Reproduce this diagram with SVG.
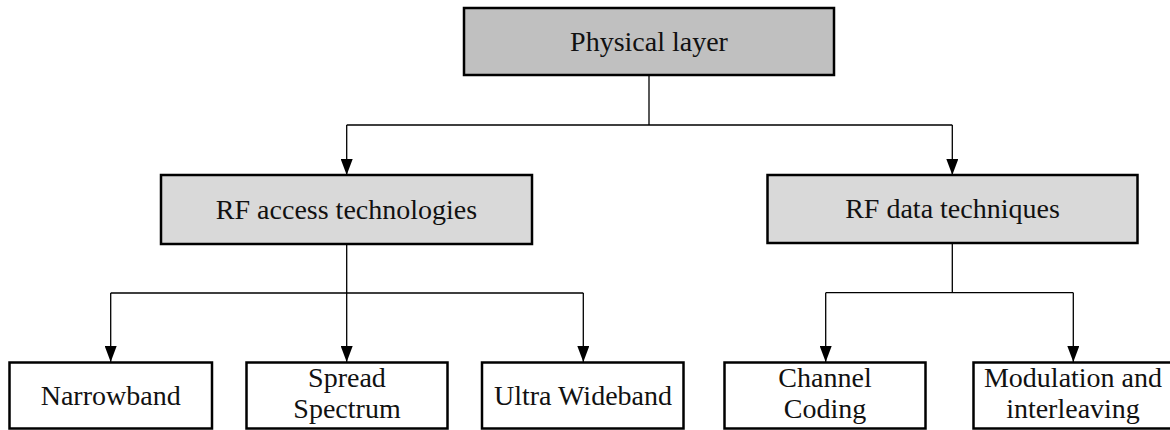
<svg xmlns="http://www.w3.org/2000/svg" width="1170" height="430" viewBox="0 0 1170 430">
<style>
.box{stroke:#000;stroke-width:2.5}
.top{fill:#c0c0c0}
.mid{fill:#d9d9d9}
.leaf{fill:#fff}
.lbl{font-family:"Liberation Serif","Times New Roman",serif;font-size:28px;fill:#111;text-anchor:middle}
.conn{fill:none;stroke:#000;stroke-width:1.3}
</style>
<defs>
<marker id="ad" markerUnits="userSpaceOnUse" markerWidth="16" markerHeight="12" refX="16" refY="6" orient="auto" viewBox="0 0 16 12">
<path d="M0,0 L16,6 L0,12 Z" fill="#000"/>
</marker>
</defs>
<rect width="1170" height="430" fill="#fff"/>
<g id="connectors">
<path class="conn" d="M649,75 V125 M346.7,125 H952.3"/>
<path class="conn" d="M346.7,125 V175" marker-end="url(#ad)"/>
<path class="conn" d="M952.3,125 V175" marker-end="url(#ad)"/>
<path class="conn" d="M346.7,244 V293 M110.7,293 H583.3"/>
<path class="conn" d="M110.7,293 V362" marker-end="url(#ad)"/>
<path class="conn" d="M346.7,293 V362" marker-end="url(#ad)"/>
<path class="conn" d="M583.3,293 V362" marker-end="url(#ad)"/>
<path class="conn" d="M952.3,243 V292.7 M825.7,292.7 H1073.3"/>
<path class="conn" d="M825.7,292.7 V362" marker-end="url(#ad)"/>
<path class="conn" d="M1073.3,292.7 V362" marker-end="url(#ad)"/>
</g>
<g id="physical">
<rect class="box top" x="464" y="8" width="370" height="67"/>
<text class="lbl" x="649" y="51">Physical layer</text>
</g>
<g id="rfaccess">
<rect class="box mid" x="161" y="175" width="371" height="69"/>
<text class="lbl" x="346.5" y="218.5">RF access technologies</text>
</g>
<g id="rfdata">
<rect class="box mid" x="767.5" y="175" width="370" height="68"/>
<text class="lbl" x="952.5" y="218">RF data techniques</text>
</g>
<g id="narrowband">
<rect class="box leaf" x="9.5" y="362.5" width="202.5" height="66"/>
<text class="lbl" x="110.7" y="405">Narrowband</text>
</g>
<g id="spread">
<rect class="box leaf" x="246.5" y="362.5" width="201" height="66"/>
<text class="lbl" x="347" y="387">Spread</text>
<text class="lbl" x="347" y="418">Spectrum</text>
</g>
<g id="uwb">
<rect class="box leaf" x="482" y="362.5" width="201.5" height="66"/>
<text class="lbl" x="583" y="405">Ultra Wideband</text>
</g>
<g id="channel">
<rect class="box leaf" x="724.5" y="362.5" width="201" height="66"/>
<text class="lbl" x="825" y="387">Channel</text>
<text class="lbl" x="825" y="418">Coding</text>
</g>
<g id="modulation">
<rect class="box leaf" x="973.5" y="362.5" width="202" height="66"/>
<text class="lbl" x="1073" y="387">Modulation and</text>
<text class="lbl" x="1073" y="418">interleaving</text>
</g>
</svg>
